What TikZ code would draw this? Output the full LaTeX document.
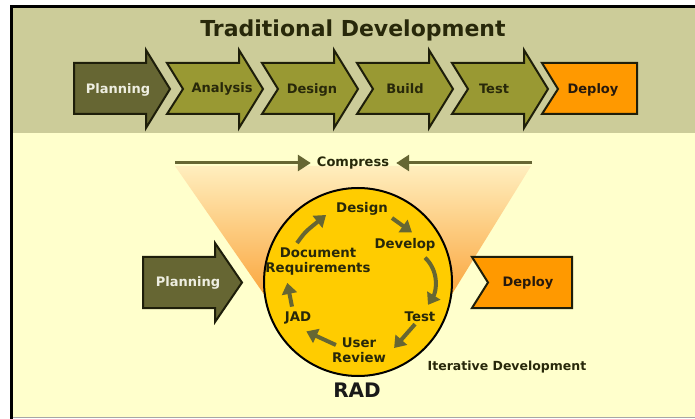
\documentclass[tikz,border=0pt]{standalone}
\usepackage{fontspec}
\setmainfont{DejaVu Sans}
\usetikzlibrary{arrows.meta}
\definecolor{band}{RGB}{204,204,153}
\definecolor{paper}{RGB}{255,255,204}
\definecolor{olivedark}{RGB}{102,102,51}
\definecolor{olivemid}{RGB}{153,153,51}
\definecolor{deployor}{RGB}{255,153,0}
\definecolor{circfill}{RGB}{255,204,0}
\definecolor{txt}{RGB}{40,40,10}
\definecolor{outl}{RGB}{30,30,10}
\definecolor{funtop}{RGB}{255,238,190}
\definecolor{funbot}{RGB}{250,160,50}
\definecolor{lighttxt}{RGB}{238,238,225}
\begin{document}
\begin{tikzpicture}[x=1pt,y=-1pt,
  lbl/.style={font=\bfseries\fontsize{13}{15}\selectfont, text=txt, inner sep=0pt, align=center},
  clbl/.style={lbl, font=\bfseries\fontsize{13.3}{15}\selectfont},
  shapebox/.style={draw=outl, line width=2pt, line join=miter},
  cyc/.style={draw=olivedark, line width=4pt, -{Triangle[width=15pt,length=11pt]}},
  comp/.style={draw=olivedark, line width=3pt, -{Triangle[width=16pt,length=13pt]}}]
\useasboundingbox (0,0) rectangle (695,419);
% backgrounds
\fill[white] (0,0) rectangle (695,419);
\fill[band] (11,7) rectangle (695,133);
\fill[paper] (11,133) rectangle (695,417);
\draw[line width=3pt] (10,7) -- (695,7);
\draw[line width=3pt] (11.5,6) -- (11.5,419);
\draw[gray!70, line width=1.5pt] (13,417.5) -- (695,417.5);
% title
\node[font=\bfseries\fontsize{22}{25}\selectfont, text=txt] (title) at (353,30) {Traditional Development};
% top chevrons
\filldraw[shapebox, fill=olivedark] (74,63) -- (146,63) -- (146,50) -- (170,89) -- (146,128) -- (146,114) -- (74,114) -- cycle;
\foreach \L/\T in {167/263, 262/358, 357/453, 452/548}
  \filldraw[shapebox, fill=olivemid] (\L,63) -- ({\T-24},63) -- ({\T-24},50) -- (\T,89) -- ({\T-24},128) -- ({\T-24},114) -- (\L,114) -- ({\L+16},89) -- cycle;
\filldraw[shapebox, fill=deployor] (542,63) -- (637,63) -- (637,114) -- (542,114) -- (558,89) -- cycle;
\node[lbl, text=lighttxt] (tplan) at (118,90) {Planning};
\node[lbl] (tana) at (222,89) {Analysis};
\node[lbl] (tdes) at (312,90) {Design};
\node[lbl] (tbuild) at (405,89) {Build};
\node[lbl] (ttest) at (494,89) {Test};
\node[lbl, text=black!80!brown] (tdep) at (593,90) {Deploy};
% funnel
\shade[top color=funtop, bottom color=funbot] (175,166) -- (531,166) -- (444,307) -- (358,282) -- (270,303) -- cycle;
% compress
\node[lbl] (compress) at (353,163) {Compress};
\coordinate (cl) at (175,163);
\coordinate (cr) at (532,163);
\draw[comp, shorten >=6pt] (cl) -- (cl -| compress.west);
\draw[comp, shorten >=7pt] (cr) -- (cr -| compress.east);
% circle
\node[circle, draw=black, fill=circfill, line width=2pt, minimum size=188pt, inner sep=0pt] (rad) at (358,282) {};
\node[clbl] (design) at (362,209) {Design};
\node[clbl] (develop) at (405,245) {Develop};
\node[clbl] (doc) at (318,262) {Document\\Requirements};
\node[clbl] (test) at (420,317) {Test};
\node[clbl] (urev) at (359,350) {User\\Review};
\node[clbl] (jad) at (298,318) {JAD};
\draw[cyc] ([shift={(-21,-5)}]doc.north) .. controls (305,232) .. ([shift={(-10,6)}]design.west);
\draw[cyc] ([shift={(4,9)}]design.east) -- ([shift={(7,-6)}]develop.north);
\draw[cyc] ([shift={(20,6)}]develop.south) .. controls (440,272) and (436,292) .. ([shift={(8,-7)}]test.north);
\draw[cyc] ([shift={(-5,2)}]test.south) -- ([shift={(8,-2)}]urev.east);
\draw[cyc] ([shift={(4,-5)}]urev.west) -- ([shift={(-5,7)}]jad.south east);
\draw[cyc] ([shift={(-6,-5)}]jad.north) -- ([shift={(22,7)}]doc.south west);
% lower planning / deploy
\filldraw[shapebox, fill=olivedark] (143,257) -- (215,257) -- (215,243) -- (242,282.5) -- (215,322) -- (215,308) -- (143,308) -- cycle;
\node[lbl, text=lighttxt] (bplan) at (188,283) {Planning};
\filldraw[shapebox, fill=deployor] (472,257) -- (572,257) -- (572,308) -- (472,308) -- (488,282.5) -- cycle;
\node[lbl, text=black!80!brown] (bdep) at (528,283) {Deploy};
\node[lbl, font=\bfseries\fontsize{12.5}{14}\selectfont] (iter) at (507,367) {Iterative Development};
\node[font=\bfseries\fontsize{20}{24}\selectfont, text=black!90] (radlbl) at (357,390) {RAD};
\end{tikzpicture}
\end{document}
